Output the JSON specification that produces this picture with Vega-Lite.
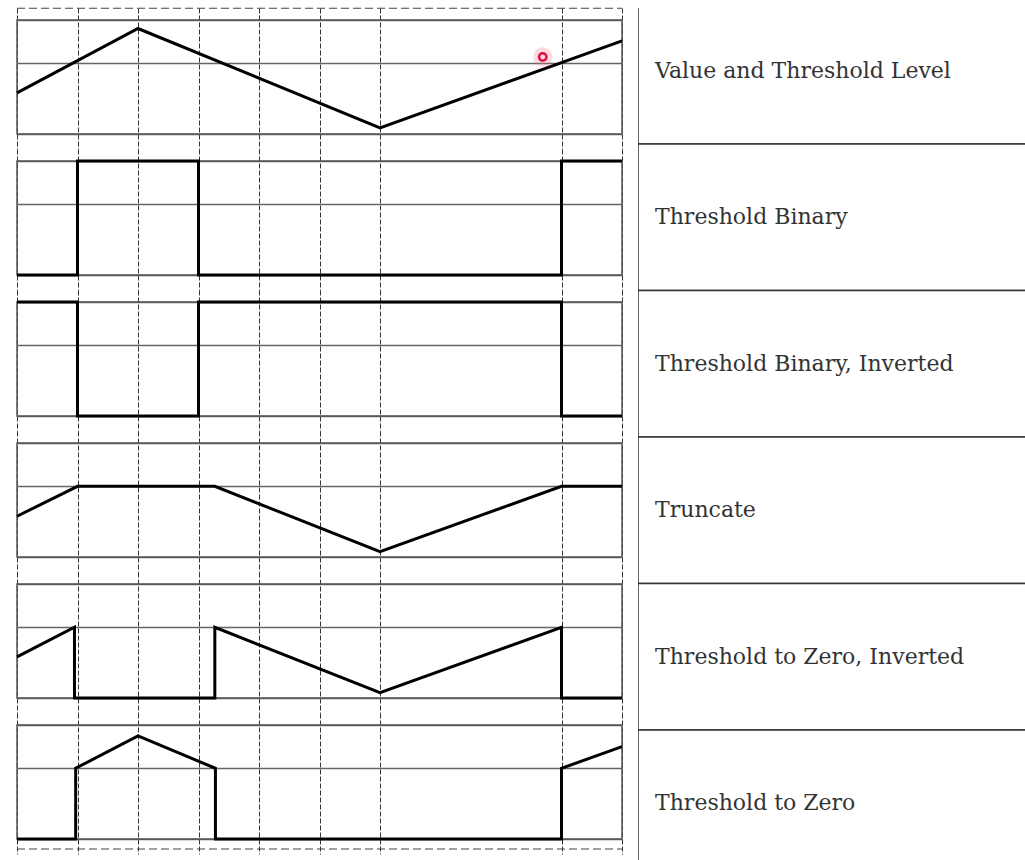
{
  "$schema": "https://vega.github.io/schema/vega-lite/v6.json",
  "background": "white",
  "padding": {"left": 11, "top": 7, "right": 0, "bottom": 0},
  "spacing": 10,
  "config": {"view": {"stroke": null}, "axis": {"minExtent": 0, "maxExtent": 0, "tickSize": 0, "labelPadding": 0, "titlePadding": 0}},
  "datasets": {
    "sig": [
      {"panel": "Value and Threshold Level", "kind": "box"},
      {"panel": "Threshold Binary", "kind": "box"},
      {"panel": "Threshold Binary, Inverted", "kind": "box"},
      {"panel": "Truncate", "kind": "box"},
      {"panel": "Threshold to Zero, Inverted", "kind": "box"},
      {"panel": "Threshold to Zero", "kind": "box"},
      {"panel": "Value and Threshold Level", "kind": "frame", "v": 1.103},
      {"panel": "Threshold to Zero", "kind": "frame", "v": -0.088},
      {"panel": "Value and Threshold Level", "kind": "cursor", "t": 8.69, "v": 0.675},

      {"panel": "Value and Threshold Level", "kind": "line", "i": 0, "t": 0, "v": 0.36},
      {"panel": "Value and Threshold Level", "kind": "line", "i": 1, "t": 2, "v": 0.925},
      {"panel": "Value and Threshold Level", "kind": "line", "i": 2, "t": 6, "v": 0.053},
      {"panel": "Value and Threshold Level", "kind": "line", "i": 3, "t": 10, "v": 0.816},

      {"panel": "Threshold Binary", "kind": "line", "i": 0, "t": 0, "v": 0},
      {"panel": "Threshold Binary", "kind": "line", "i": 1, "t": 1, "v": 0},
      {"panel": "Threshold Binary", "kind": "line", "i": 2, "t": 1, "v": 1},
      {"panel": "Threshold Binary", "kind": "line", "i": 3, "t": 3, "v": 1},
      {"panel": "Threshold Binary", "kind": "line", "i": 4, "t": 3, "v": 0},
      {"panel": "Threshold Binary", "kind": "line", "i": 5, "t": 9, "v": 0},
      {"panel": "Threshold Binary", "kind": "line", "i": 6, "t": 9, "v": 1},
      {"panel": "Threshold Binary", "kind": "line", "i": 7, "t": 10, "v": 1},

      {"panel": "Threshold Binary, Inverted", "kind": "line", "i": 0, "t": 0, "v": 1},
      {"panel": "Threshold Binary, Inverted", "kind": "line", "i": 1, "t": 1, "v": 1},
      {"panel": "Threshold Binary, Inverted", "kind": "line", "i": 2, "t": 1, "v": 0},
      {"panel": "Threshold Binary, Inverted", "kind": "line", "i": 3, "t": 3, "v": 0},
      {"panel": "Threshold Binary, Inverted", "kind": "line", "i": 4, "t": 3, "v": 1},
      {"panel": "Threshold Binary, Inverted", "kind": "line", "i": 5, "t": 9, "v": 1},
      {"panel": "Threshold Binary, Inverted", "kind": "line", "i": 6, "t": 9, "v": 0},
      {"panel": "Threshold Binary, Inverted", "kind": "line", "i": 7, "t": 10, "v": 0},

      {"panel": "Truncate", "kind": "line", "i": 0, "t": 0, "v": 0.357},
      {"panel": "Truncate", "kind": "line", "i": 1, "t": 1, "v": 0.62},
      {"panel": "Truncate", "kind": "line", "i": 2, "t": 3.27, "v": 0.62},
      {"panel": "Truncate", "kind": "line", "i": 3, "t": 6, "v": 0.046},
      {"panel": "Truncate", "kind": "line", "i": 4, "t": 9, "v": 0.62},
      {"panel": "Truncate", "kind": "line", "i": 5, "t": 10, "v": 0.62},

      {"panel": "Threshold to Zero, Inverted", "kind": "line", "i": 0, "t": 0, "v": 0.36},
      {"panel": "Threshold to Zero, Inverted", "kind": "line", "i": 1, "t": 0.95, "v": 0.62},
      {"panel": "Threshold to Zero, Inverted", "kind": "line", "i": 2, "t": 0.95, "v": 0},
      {"panel": "Threshold to Zero, Inverted", "kind": "line", "i": 3, "t": 3.27, "v": 0},
      {"panel": "Threshold to Zero, Inverted", "kind": "line", "i": 4, "t": 3.27, "v": 0.62},
      {"panel": "Threshold to Zero, Inverted", "kind": "line", "i": 5, "t": 6, "v": 0.046},
      {"panel": "Threshold to Zero, Inverted", "kind": "line", "i": 6, "t": 9, "v": 0.62},
      {"panel": "Threshold to Zero, Inverted", "kind": "line", "i": 7, "t": 9, "v": 0},
      {"panel": "Threshold to Zero, Inverted", "kind": "line", "i": 8, "t": 10, "v": 0},

      {"panel": "Threshold to Zero", "kind": "line", "i": 0, "t": 0, "v": 0},
      {"panel": "Threshold to Zero", "kind": "line", "i": 1, "t": 0.97, "v": 0},
      {"panel": "Threshold to Zero", "kind": "line", "i": 2, "t": 0.97, "v": 0.62},
      {"panel": "Threshold to Zero", "kind": "line", "i": 3, "t": 2, "v": 0.904},
      {"panel": "Threshold to Zero", "kind": "line", "i": 4, "t": 3.28, "v": 0.62},
      {"panel": "Threshold to Zero", "kind": "line", "i": 5, "t": 3.28, "v": 0},
      {"panel": "Threshold to Zero", "kind": "line", "i": 6, "t": 9, "v": 0},
      {"panel": "Threshold to Zero", "kind": "line", "i": 7, "t": 9, "v": 0.62},
      {"panel": "Threshold to Zero", "kind": "line", "i": 8, "t": 10, "v": 0.81}
    ],
    "labels": [
      {"label": "Value and Threshold Level"},
      {"label": "Threshold Binary"},
      {"label": "Threshold Binary, Inverted"},
      {"label": "Truncate"},
      {"label": "Threshold to Zero, Inverted"},
      {"label": "Threshold to Zero"}
    ]
  },
  "hconcat": [
    {
      "data": {"name": "sig"},
      "facet": {
        "row": {
          "field": "panel",
          "type": "nominal",
          "header": null,
          "sort": ["Value and Threshold Level", "Threshold Binary", "Threshold Binary, Inverted", "Truncate", "Threshold to Zero, Inverted", "Threshold to Zero"]
        }
      },
      "spacing": 0,
      "bounds": "flush",
      "spec": {
        "width": 605,
        "height": 141,
        "layer": [
          {
            "transform": [{"filter": "datum.kind === 'box'"}],
            "mark": {"type": "rect", "fill": null, "fillOpacity": 0, "stroke": "#555", "strokeWidth": 1.5},
            "encoding": {
              "x": {"datum": 0, "type": "quantitative", "title": null, "scale": {"domain": [0, 10], "nice": false, "zero": false}},
              "x2": {"datum": 10},
              "y": {"datum": 0, "type": "quantitative", "title": null, "scale": {"domain": [-0.132, 1.105], "nice": false, "zero": false}},
              "y2": {"datum": 1}
            }
          },
          {
            "transform": [{"filter": "datum.kind === 'frame'"}],
            "mark": {"type": "rule", "stroke": "#444", "strokeWidth": 1.2, "strokeDash": [8, 4]},
            "encoding": {
              "x": {"datum": 0, "type": "quantitative", "title": null},
              "x2": {"datum": 10},
              "y": {"field": "v", "type": "quantitative", "title": null}
            }
          },
          {
            "transform": [{"filter": "datum.kind === 'line'"}],
            "mark": {"type": "line", "color": "black", "strokeWidth": 3, "strokeJoin": "miter", "strokeCap": "butt"},
            "encoding": {
              "x": {
                "field": "t", "type": "quantitative", "title": null,
                "scale": {"domain": [0, 10], "nice": false, "zero": false},
                "axis": {"values": [0, 1, 2, 3, 4, 5, 6, 9, 10], "grid": true, "gridColor": "#333", "gridWidth": 1, "gridDash": [5, 2], "gridOpacity": 1, "labels": false, "ticks": false, "domain": false, "title": null}
              },
              "y": {
                "field": "v", "type": "quantitative", "title": null,
                "scale": {"domain": [-0.132, 1.105], "nice": false, "zero": false},
                "axis": {"values": [0, 0.62, 1], "grid": true, "gridColor": "#666", "gridWidth": 1.5, "gridOpacity": 1, "labels": false, "ticks": false, "domain": false, "title": null}
              },
              "order": {"field": "i", "type": "quantitative"}
            }
          },
          {
            "transform": [{"filter": "datum.kind === 'cursor'"}],
            "mark": {"type": "circle", "color": "#ff5a7a", "opacity": 0.22, "size": 380},
            "encoding": {
              "x": {"field": "t", "type": "quantitative", "title": null},
              "y": {"field": "v", "type": "quantitative", "title": null}
            }
          },
          {
            "transform": [{"filter": "datum.kind === 'cursor'"}],
            "mark": {"type": "point", "filled": false, "stroke": "#e0103c", "strokeWidth": 2.5, "size": 55, "opacity": 1},
            "encoding": {
              "x": {"field": "t", "type": "quantitative", "title": null},
              "y": {"field": "v", "type": "quantitative", "title": null}
            }
          }
        ]
      }
    },
    {
      "data": {"name": "labels"},
      "width": 387,
      "height": 853,
      "layer": [
        {
          "mark": {"type": "rect", "fill": "white", "stroke": "#333", "strokeWidth": 1.5, "clip": true},
          "encoding": {
            "y": {"field": "label", "type": "nominal", "sort": null, "axis": null, "scale": {"range": [-10.5, 868.5], "paddingInner": 0, "paddingOuter": 0}},
            "x": {"datum": 0, "type": "quantitative", "axis": null, "scale": {"domain": [0, 1], "nice": false, "zero": false}},
            "x2": {"datum": 1.5}
          }
        },
        {
          "mark": {"type": "text", "align": "left", "baseline": "middle", "font": "DejaVu Serif", "fontSize": 22, "fill": "#333"},
          "encoding": {
            "y": {"field": "label", "type": "nominal", "sort": null, "axis": null},
            "x": {"datum": 0.044, "type": "quantitative", "axis": null},
            "text": {"field": "label"}
          }
        }
      ]
    }
  ]
}
